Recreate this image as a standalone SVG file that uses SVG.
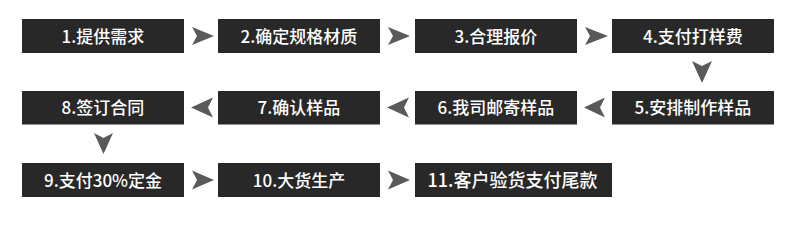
<svg xmlns="http://www.w3.org/2000/svg" width="790" height="234" viewBox="0 0 790 234">
<style>
.box{fill:#282828}
.t{fill:#ffffff;font-family:"Noto Sans CJK SC","Noto Sans",sans-serif;font-size:17px;font-weight:500;text-anchor:middle}
.arr{fill:#5a5a5a}
</style>
<rect width="790" height="234" fill="#ffffff"/>
<g id="n1"><rect class="box" x="22" y="19" width="162" height="34"/><text class="t" x="103" y="42.5">1.提供需求</text></g>
<g id="n2"><rect class="box" x="218" y="19" width="162" height="34"/><text class="t" x="299" y="42.5">2.确定规格材质</text></g>
<g id="n3"><rect class="box" x="415" y="19" width="162" height="34"/><text class="t" x="496" y="42.5">3.合理报价</text></g>
<g id="n4"><rect class="box" x="612" y="19" width="162" height="34"/><text class="t" x="693" y="42.5">4.支付打样费</text></g>
<g id="n5"><rect class="box" x="612" y="91" width="162" height="33.5"/><text class="t" x="693" y="114">5.安排制作样品</text></g>
<g id="n6"><rect class="box" x="415" y="91" width="162" height="33.5"/><text class="t" x="496" y="114">6.我司邮寄样品</text></g>
<g id="n7"><rect class="box" x="218" y="91" width="162" height="33.5"/><text class="t" x="299" y="114">7.确认样品</text></g>
<g id="n8"><rect class="box" x="22" y="91" width="162" height="33.5"/><text class="t" x="103" y="114">8.签订合同</text></g>
<g id="n9"><rect class="box" x="22" y="163" width="162" height="34"/><text class="t" x="103" y="186.5">9.支付30%定金</text></g>
<g id="n10"><rect class="box" x="218" y="163" width="162" height="34"/><text class="t" x="299" y="186.5">10.大货生产</text></g>
<g id="n11"><rect class="box" x="415" y="163" width="197" height="34"/><text class="t" x="512.5" y="187" style="font-size:18px">11.客户验货支付尾款</text></g>
<g id="connectors">
<polygon class="arr" points="192,27 214,36 192,45 197,36"/>
<polygon class="arr" points="388,27 410,36 388,45 393,36"/>
<polygon class="arr" points="585,27 608,36 585,45 590,36"/>
<polygon class="arr" points="692,61 702,83 712,61 702,66"/>
<polygon class="arr" points="605,97.5 584,107.5 605,117.5 600,107.5"/>
<polygon class="arr" points="409,97.5 387,107.5 409,117.5 404,107.5"/>
<polygon class="arr" points="213,97.5 191,107.5 213,117.5 208,107.5"/>
<polygon class="arr" points="94,133 103.5,154 113,133 103.5,138"/>
<polygon class="arr" points="192,170.5 214,180 192,189.5 197,180"/>
<polygon class="arr" points="388,170.5 410,180 388,189.5 393,180"/>
</g>
</svg>
